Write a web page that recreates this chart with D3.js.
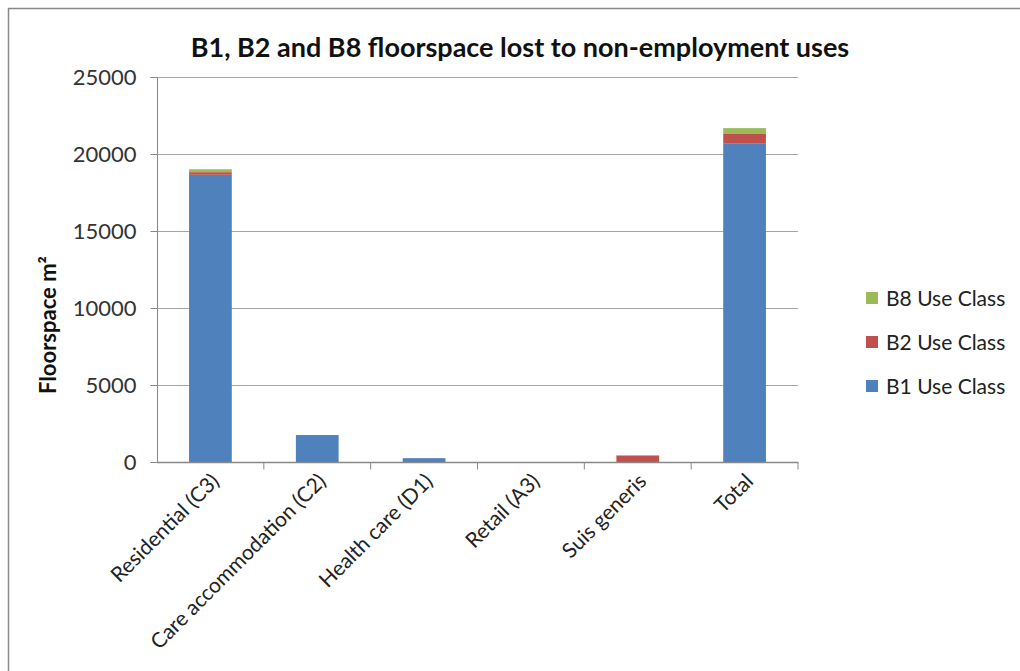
<!DOCTYPE html>
<html><head><meta charset="utf-8">
<script src="https://cdn.jsdelivr.net/npm/d3@7"></script>
<style>body{margin:0;background:#fff;} text{font-family:Lato,"Noto Sans",sans-serif;}</style>
</head><body><svg id="c" width="1020" height="671"></svg>
<script>
const categories = ["Residential (C3)","Care accommodation (C2)","Health care (D1)","Retail (A3)","Suis generis","Total"];
const seriesNames = ["B1 Use Class","B2 Use Class","B8 Use Class"];
const b1 = [18650, 1750, 250, 0, 0, 20700];
const b2 = [170, 0, 0, 0, 420, 600];
const b8 = [190, 0, 0, 0, 30, 380];
const colors = ["#4F81BD","#C0504D","#9BBB59"];
const yTicks = [0,5000,10000,15000,20000,25000];

const svg = d3.select("#c");
svg.append("rect").attr("x",8.5).attr("y",8.5).attr("width",1030).attr("height",700)
  .attr("fill","#fff").attr("stroke","#888").attr("stroke-width",1.5);

const m = {l:157, r:798, t:77, b:462};
const x = d3.scaleBand().domain(categories).range([m.l,m.r]).paddingInner(0.6).paddingOuter(0.3);
const xb = d3.scaleBand().domain(categories).range([m.l,m.r]);
const y = d3.scaleLinear().domain([0,25000]).range([m.b,m.t]);

svg.append("g").selectAll("line").data(yTicks.filter(d=>d>0)).join("line")
  .attr("x1",m.l).attr("x2",m.r).attr("y1",d=>y(d)+0.5).attr("y2",d=>y(d)+0.5)
  .attr("stroke","#a6a6a6").attr("stroke-width",1);

const rows = categories.map((c,i)=>({cat:c, "B1 Use Class":b1[i], "B2 Use Class":b2[i], "B8 Use Class":b8[i]}));
const stack = d3.stack().keys(seriesNames)(rows);
svg.append("g").selectAll("g").data(stack).join("g").attr("fill",(d,i)=>colors[i])
  .selectAll("rect").data(d=>d).join("rect")
  .attr("x",d=>x(d.data.cat)).attr("width",x.bandwidth())
  .attr("y",d=>y(d[1])).attr("height",d=>Math.max(0,y(d[0])-y(d[1])));

const ya = svg.append("g").attr("transform",`translate(${m.l+0.5},0)`)
  .call(d3.axisLeft(y).tickValues(yTicks).tickSize(7).tickPadding(14).tickFormat(d3.format("d")));
ya.select(".domain").attr("stroke","#888").attr("d",`M-7,${m.t+0.5}H0V${m.b+0.5}`);
ya.selectAll(".tick line").attr("stroke","#888");
ya.selectAll("text").attr("font-size",22).attr("fill","#333").style("font-family","Lato,'Noto Sans',sans-serif");

const xa = svg.append("g").attr("transform",`translate(0,${m.b+0.5})`);
xa.append("line").attr("x1",m.l).attr("x2",m.r+0.5).attr("stroke","#888").attr("stroke-width",1.5);
const bounds = categories.map(c=>xb(c)+xb.bandwidth());
xa.selectAll("line.t").data(bounds).join("line").attr("class","t")
  .attr("x1",d=>d).attr("x2",d=>d).attr("y1",0).attr("y2",7).attr("stroke","#888");
xa.selectAll("text").data(categories).join("text")
  .attr("transform",d=>`translate(${xb(d)+xb.bandwidth()/2+10},${20}) rotate(-45)`)
  .attr("text-anchor","end").attr("font-size",21).attr("fill","#222").text(d=>d);

svg.append("text").attr("x",520).attr("y",57).attr("text-anchor","middle")
  .attr("font-size",27).attr("font-weight","bold").attr("fill","#111")
  .text("B1, B2 and B8 floorspace lost to non-employment uses");

svg.append("text").attr("transform","translate(56,325) rotate(-90)").attr("text-anchor","middle")
  .attr("font-size",22).attr("font-weight","bold").attr("fill","#111")
  .text("Floorspace m²");

const lg = svg.append("g");
const legendItems = seriesNames.slice().reverse();
legendItems.forEach((n,i)=>{
  const yy = 298 + i*44;
  lg.append("rect").attr("x",866).attr("y",yy-6).attr("width",12).attr("height",12)
    .attr("fill",colors[seriesNames.indexOf(n)]);
  lg.append("text").attr("x",886).attr("y",yy+8).attr("font-size",21).attr("fill","#222").text(n);
});
</script></body></html>
